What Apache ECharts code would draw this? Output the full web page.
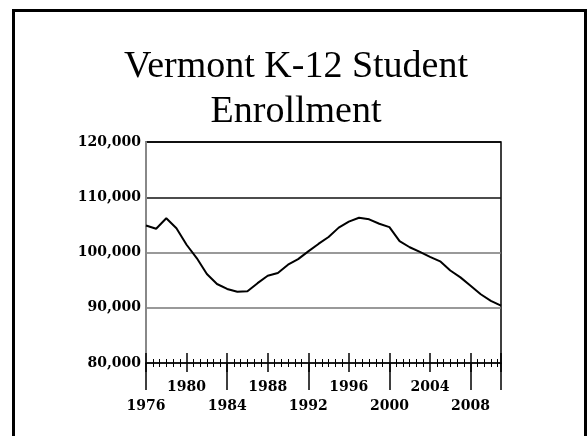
<!DOCTYPE html>
<html>
<head>
<meta charset="utf-8">
<script src="https://cdn.jsdelivr.net/npm/echarts@6/dist/echarts.min.js"></script>
<style>
  html, body { margin: 0; padding: 0; background: #fff; }
  #chart { width: 587px; height: 436px; }
</style>
</head>
<body>
<div id="chart"></div>
<script>
var years = [1976, 1977, 1978, 1979, 1980, 1981, 1982, 1983, 1984, 1985, 1986, 1987,
  1988, 1989, 1990, 1991, 1992, 1993, 1994, 1995, 1996, 1997, 1998, 1999,
  2000, 2001, 2002, 2003, 2004, 2005, 2006, 2007, 2008, 2009, 2010, 2011];
var enrollment = [104900, 104300, 106200, 104400, 101400, 99000, 96100, 94300, 93400, 92900, 93000, 94450,
  95800, 96300, 97800, 98800, 100200, 101550, 102800, 104500, 105600, 106300, 106000, 105200,
  104600, 102050, 100950, 100100, 99200, 98400, 96750, 95500, 94000, 92450, 91250, 90400];
var yTicks = [80000, 90000, 100000, 110000, 120000];
var labelFont = 'DejaVu Serif';

var points = [];
for (var i = 0; i < years.length; i++) {
  points.push([years[i], enrollment[i]]);
}

var chart = echarts.init(document.getElementById('chart'));

// common x axis settings, three copies to get crossing ticks and staggered labels
function xAxisBase() {
  return {
    type: 'value',
    position: 'bottom',
    min: 1976,
    max: 2011,
    interval: 4,
    splitLine: { show: false },
    axisLine: { show: false },
    axisLabel: { show: false }
  };
}

var xTop = xAxisBase();
xTop.axisLine = { show: true, lineStyle: { color: '#000', width: 1.5 } };
xTop.axisTick = { show: true, inside: true, length: 10, lineStyle: { color: '#000', width: 1.5 } };
xTop.minorTick = { show: true, splitNumber: 6, length: 4, lineStyle: { color: '#000', width: 1 } };

var xBottom = xAxisBase();
xBottom.axisTick = { show: true, inside: false, length: 9, lineStyle: { color: '#000', width: 1.5 } };
xBottom.minorTick = { show: true, splitNumber: 6, length: 4, lineStyle: { color: '#000', width: 1 } };
xBottom.axisLabel = {
  show: true, margin: 17, color: '#000',
  fontFamily: labelFont, fontWeight: 'bold', fontSize: 14,
  formatter: function (v) { return (v - 1976) % 8 === 4 ? String(v) : ''; }
};

var xLong = xAxisBase();
xLong.interval = 8;
xLong.axisTick = { show: true, inside: false, length: 27, lineStyle: { color: '#000', width: 1.5 } };
xLong.axisLabel = {
  show: true, margin: 36, color: '#000',
  fontFamily: labelFont, fontWeight: 'bold', fontSize: 14,
  formatter: function (v) { return v <= 2008 ? String(v) : ''; }
};

var option = {
  animation: false,
  title: {
    text: 'Vermont K-12 Student\nEnrollment',
    left: 291,
    textAlign: 'center',
    top: 40,
    textStyle: {
      fontFamily: 'Liberation Serif',
      fontWeight: 'normal',
      fontSize: 38,
      lineHeight: 45,
      color: '#000'
    }
  },
  graphic: [{
    type: 'rect',
    shape: { x: 13.5, y: 10.5, width: 572, height: 500 },
    style: { fill: null, stroke: '#000', lineWidth: 3 }
  }],
  grid: {
    left: 146,
    right: 86,
    top: 142,
    bottom: 73,
    show: true,
    borderColor: '#000',
    borderWidth: 1.5
  },
  xAxis: [xTop, xBottom, xLong],
  yAxis: {
    type: 'value',
    min: yTicks[0],
    max: yTicks[yTicks.length - 1],
    interval: 10000,
    axisLine: { show: true, lineStyle: { color: '#888', width: 2 } },
    axisTick: { show: false },
    splitLine: { show: true, lineStyle: { color: ['#888', '#777', '#777', '#111', '#000'], width: 1.5 } },
    axisLabel: {
      margin: 5, color: '#000',
      fontFamily: labelFont, fontWeight: 'bold', fontSize: 14,
      formatter: function (v) { return v.toLocaleString('en-US'); }
    }
  },
  series: [{
    type: 'line',
    xAxisIndex: 0,
    data: points,
    showSymbol: false,
    lineStyle: { color: '#000', width: 2 }
  }]
};

chart.setOption(option);
</script>
</body>
</html>
